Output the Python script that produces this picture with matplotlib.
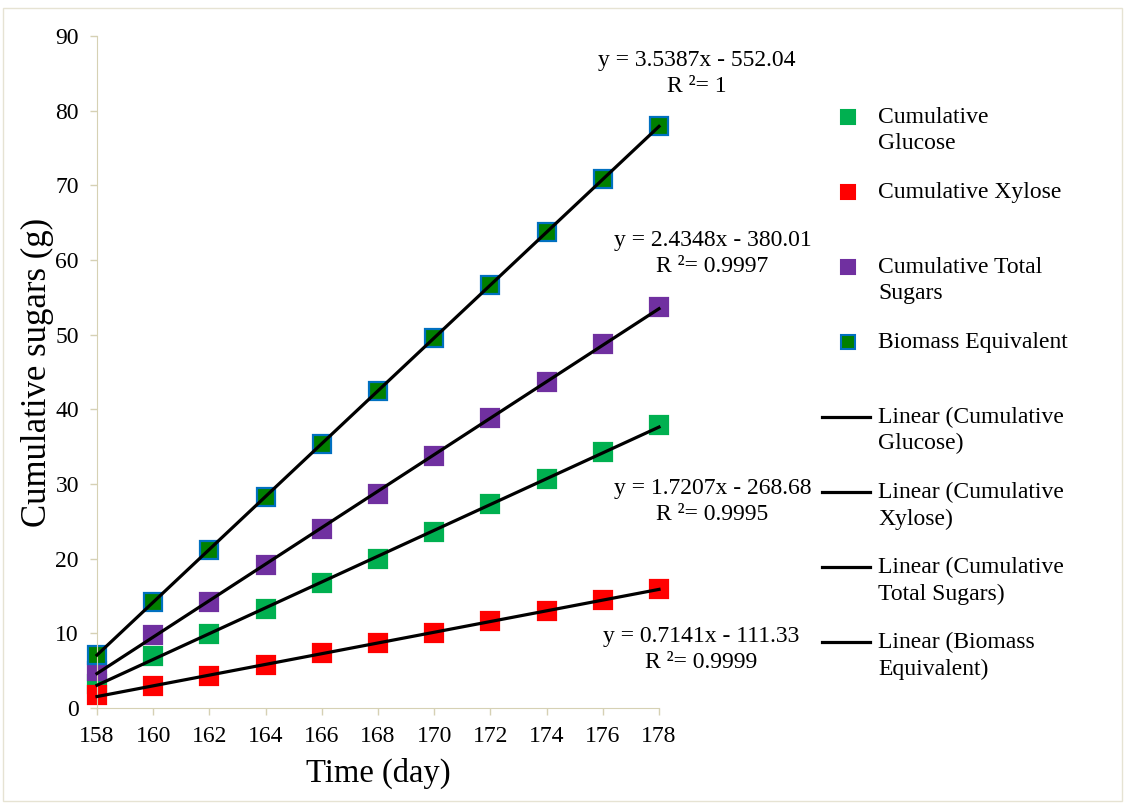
# Cumulative sugars vs time, with linear trendlines
from matplotlib import pyplot as plt
from matplotlib.patches import Rectangle
import numpy as np

plt.rcParams['font.family'] = ['Liberation Serif', 'DejaVu Serif']

# 데이터
days = [158, 160, 162, 164, 166, 168, 170, 172, 174, 176, 178]
glucose = [3.2, 6.9, 9.9, 13.3, 16.7, 19.9, 23.6, 27.3, 30.7, 34.3, 37.9]
xylose = [1.7, 2.9, 4.3, 5.8, 7.3, 8.7, 10.1, 11.6, 13.0, 14.5, 15.9]
total = [4.9, 9.8, 14.2, 19.2, 24.0, 28.6, 33.7, 38.9, 43.7, 48.8, 53.7]
biomass = [7.1, 14.2, 21.2, 28.3, 35.4, 42.5, 49.6, 56.7, 63.7, 70.8, 77.9]

series_names = ['Cumulative\nGlucose', 'Cumulative Xylose',
                'Cumulative Total\nSugars', 'Biomass Equivalent']
line_names = ['Linear (Cumulative\nGlucose)', 'Linear (Cumulative\nXylose)',
              'Linear (Cumulative\nTotal Sugars)', 'Linear (Biomass\nEquivalent)']
eq_texts = ['y = 1.7207x - 268.68\nR ²= 0.9995',
            'y = 0.7141x - 111.33\nR ²= 0.9999',
            'y = 2.4348x - 380.01\nR ²= 0.9997',
            'y = 3.5387x - 552.04\nR ²= 1']
eq_pos = [(179.9, 27.7), (179.5, 7.8), (179.9, 60.9), (179.35, 85.0)]

faces = ['#00B050', '#FF0000', '#7030A0', '#008000']
edges = ['#00B050', '#FF0000', '#7030A0', '#0070C0']
axis_col = '#d6d1b4'

fig = plt.figure(figsize=(11.25, 8.06), dpi=100)
ax = fig.add_axes([0.0862, 0.1216, 0.4996, 0.8337])

x = np.array(days)
data = [glucose, xylose, total, biomass]
for y, fc, ec in zip(data, faces, edges):
    ax.plot(x, y, 's', ms=13, mfc=fc, mec=ec, mew=1.6, zorder=2, clip_on=False)
for y in data:
    k, b = np.polyfit(x, y, 1)
    ax.plot(x, k * x + b, color='black', lw=2.3, zorder=3, clip_on=False)

for t, (tx, ty) in zip(eq_texts, eq_pos):
    ax.text(tx, ty, t, ha='center', va='center', fontsize=17,
            multialignment='center', clip_on=False, linespacing=1.3)

ax.set_xlim(158, 178)
ax.set_ylim(0, 90)
ax.set_xticks(days)
ax.set_yticks(range(0, 91, 10))
ax.tick_params(labelsize=17, color=axis_col, length=5, width=1, pad=8)
for s in ['top', 'right']:
    ax.spines[s].set_visible(False)
for s in ['left', 'bottom']:
    ax.spines[s].set_color(axis_col)
ax.set_xlabel('Time (day)', fontsize=23.5, labelpad=8)
ax.set_ylabel('Cumulative sugars (g)', fontsize=25, labelpad=1)
ax.patch.set_alpha(0)

# 범례 (수동 배치, 픽셀 좌표)
lax = fig.add_axes([0, 0, 1, 1])
lax.set_xlim(0, 1125)
lax.set_ylim(806, 0)
lax.axis('off')
for i in range(8):
    yy = 117 + 75 * i
    if i < 4:
        lax.plot(848, yy, 's', ms=10.5, mfc=faces[i], mec=edges[i], mew=1.5)
        name = series_names[i]
    else:
        lax.plot([822, 870], [yy, yy], color='black', lw=2.3)
        name = line_names[i - 4]
    lax.text(878, yy - 10, name, ha='left', va='top', fontsize=17,
             linespacing=1.32)

fig.add_artist(Rectangle((0.003, 0.006), 0.994, 0.984, transform=fig.transFigure,
                         fill=False, edgecolor='#e6e3d3', lw=1))

fig.savefig('out.png', dpi=100)
